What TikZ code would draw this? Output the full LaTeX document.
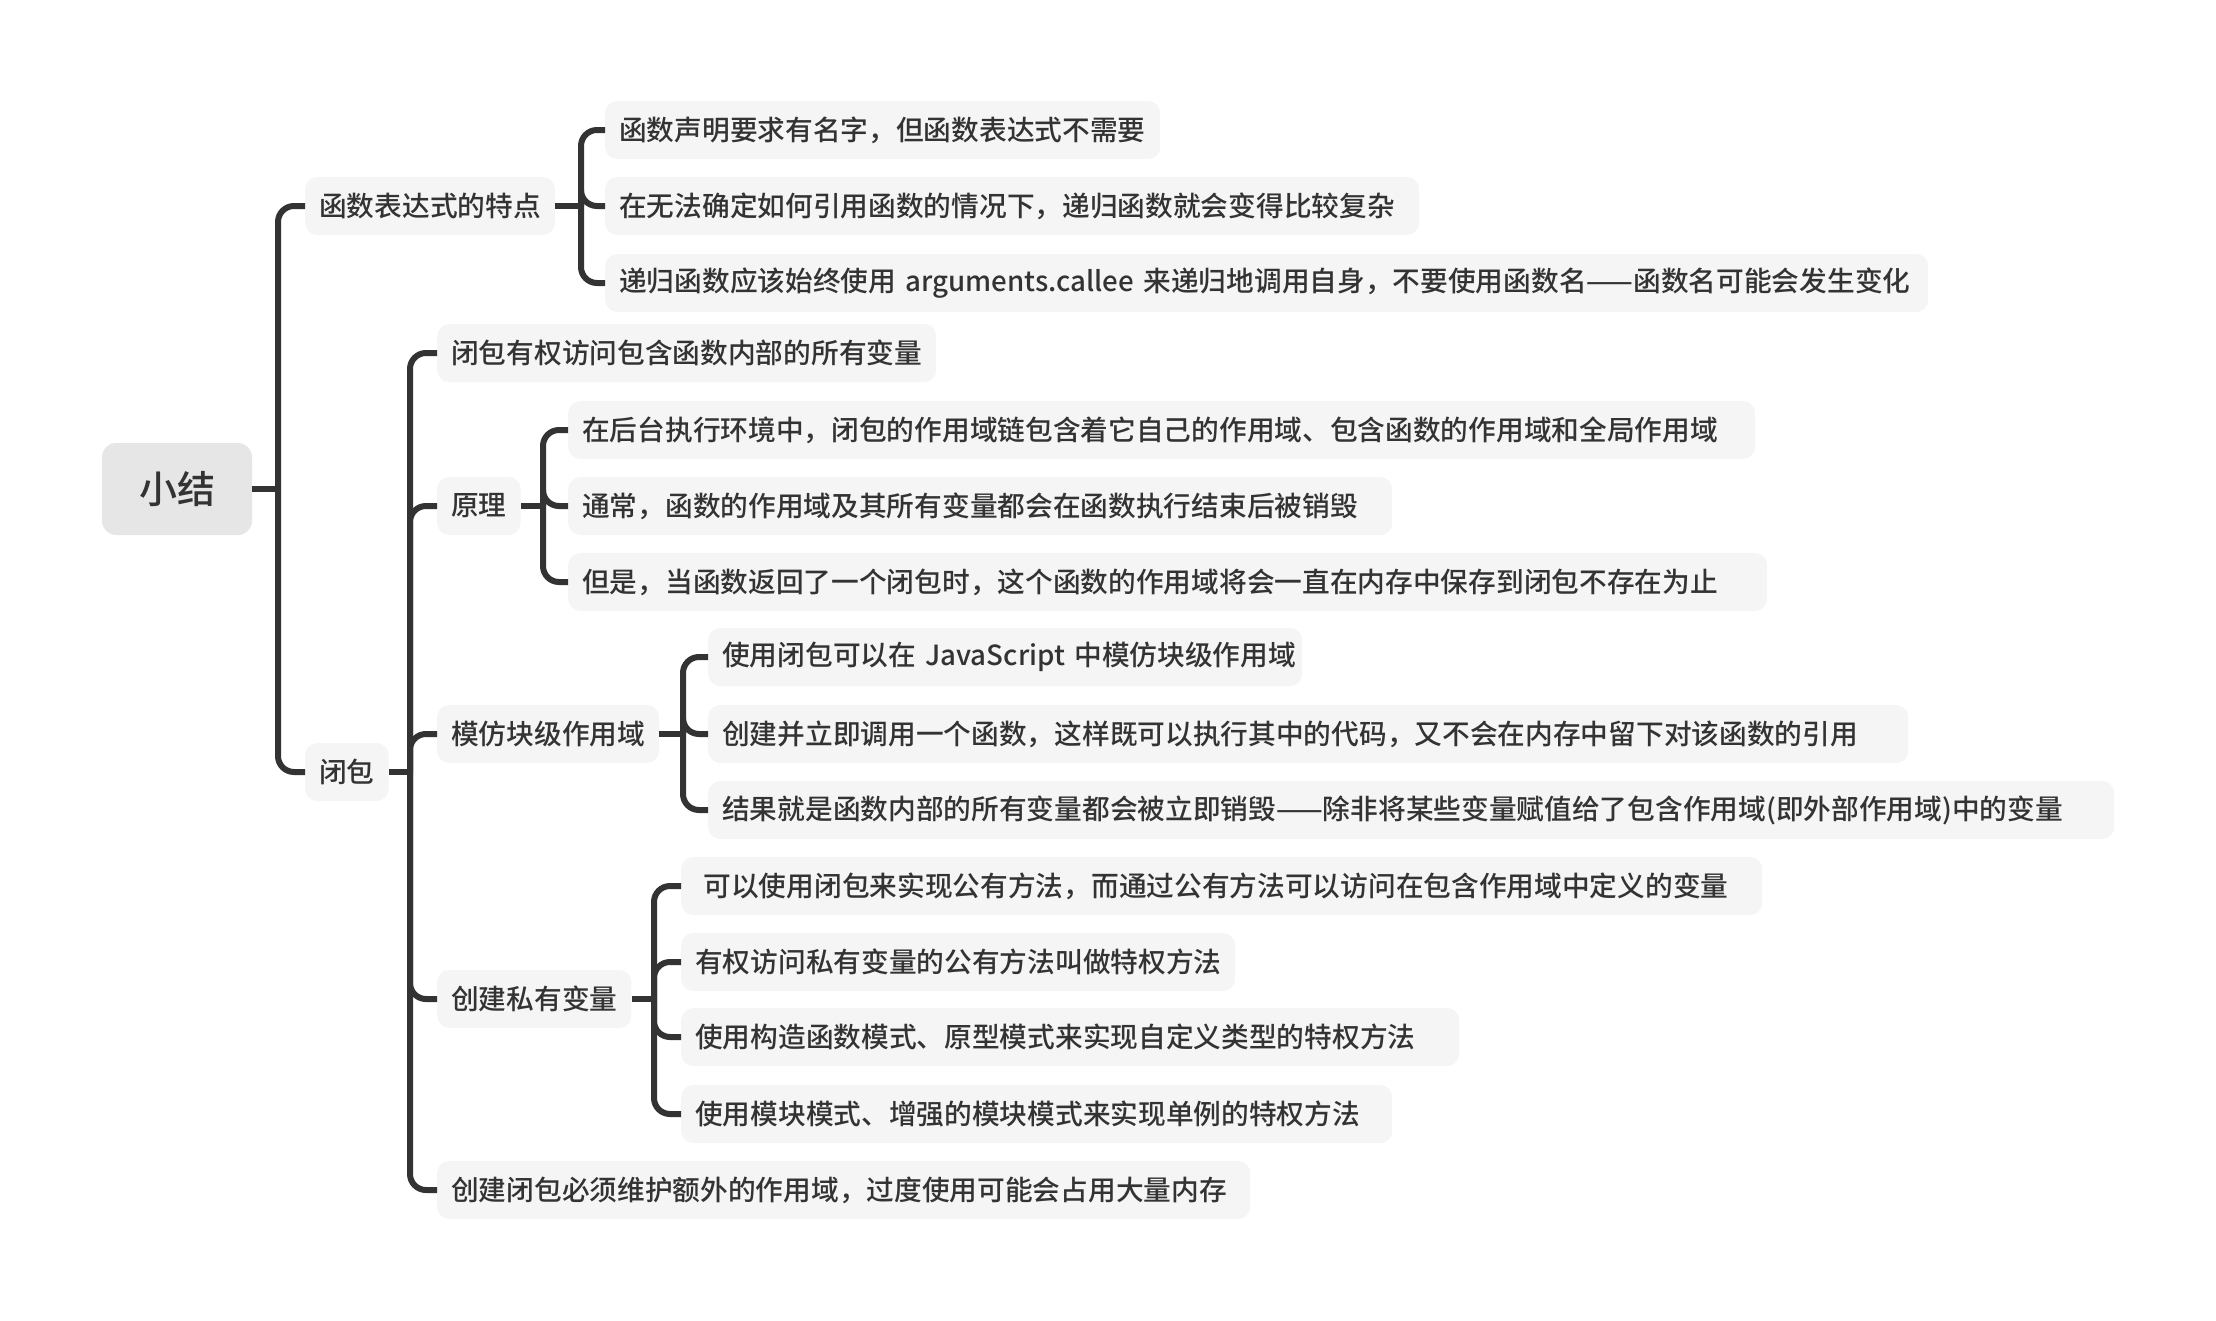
\documentclass[tikz,border=0pt]{standalone}
\usepackage{fontspec}
\setmainfont{Noto Sans CJK SC}[UprightFont=* Medium]
\usetikzlibrary{calc}
\definecolor{ink}{HTML}{333333}
\definecolor{leaf}{HTML}{F5F5F5}
\definecolor{rootfill}{HTML}{E6E6E6}
\begin{document}
\begin{tikzpicture}[x=1pt,y=-1pt,
  topic/.style={anchor=west, fill=leaf, rounded corners=12pt, inner xsep=14pt,
    inner ysep=0pt, minimum height=58pt, text=ink, font=\fontsize{27.7}{30}\selectfont},
  wide/.style={text width=#1, align=left},
  central/.style={fill=rootfill, rounded corners=14pt, minimum width=150pt,
    minimum height=92pt, text=ink, font=\fontsize{38}{42}\selectfont},
  link/.style={draw=ink, line width=6pt, rounded corners=16pt},
]
\useasboundingbox (0,0) rectangle (2216,1320);

% central topic
\node[central] (root) at (177,489) {小结};

% main branches
\node[topic] (fx) at (305,206) {函数表达式的特点};
\node[topic] (cl) at (305,772) {闭包};

% function expressions
\node[topic, wide=527pt]  (fx1) at (605,130) {函数声明要求有名字，但函数表达式不需要};
\node[topic, wide=786pt]  (fx2) at (605,206) {在无法确定如何引用函数的情况下，递归函数就会变得比较复杂};
\node[topic, wide=1295pt] (fx3) at (605,283) {递归函数应该始终使用~arguments.callee~来递归地调用自身，不要使用函数名——函数名可能会发生变化};

% closures
\node[topic, wide=471pt] (cl1) at (437,353) {闭包有权访问包含函数内部的所有变量};
\node[topic] (yl)  at (437,506) {原理};
\node[topic] (mf)  at (437,734) {模仿块级作用域};
\node[topic] (sy)  at (437,999) {创建私有变量};
\node[topic, wide=785pt] (cl5) at (437,1190) {创建闭包必须维护额外的作用域，过度使用可能会占用大量内存};

\node[topic, wide=1159pt] (yl1) at (568,430) {在后台执行环境中，闭包的作用域链包含着它自己的作用域、包含函数的作用域和全局作用域};
\node[topic, wide=796pt]  (yl2) at (568,506) {通常，函数的作用域及其所有变量都会在函数执行结束后被销毁};
\node[topic, wide=1171pt] (yl3) at (568,582) {但是，当函数返回了一个闭包时，这个函数的作用域将会一直在内存中保存到闭包不存在为止};

\node[topic, wide=566pt]  (mf1) at (708,657) {使用闭包可以在~JavaScript~中模仿块级作用域};
\node[topic, wide=1172pt] (mf2) at (708,734) {创建并立即调用一个函数，这样既可以执行其中的代码，又不会在内存中留下对该函数的引用};
\node[topic, wide=1378pt] (mf3) at (708,810) {结果就是函数内部的所有变量都会被立即销毁——除非将某些变量赋值给了包含作用域(即外部作用域)中的变量};

\node[topic, wide=1053pt] (sy1) at (681,886) {\hspace{0.3em}可以使用闭包来实现公有方法，而通过公有方法可以访问在包含作用域中定义的变量};
\node[topic, wide=526pt]  (sy2) at (681,962) {有权访问私有变量的公有方法叫做特权方法};
\node[topic, wide=750pt]  (sy3) at (681,1037) {使用构造函数模式、原型模式来实现自定义类型的特权方法};
\node[topic, wide=683pt]  (sy4) at (681,1114) {使用模块模式、增强的模块模式来实现单例的特权方法};

% junction points of the brackets
\coordinate (jroot) at ($(fx.west |- root.east)+(-27,0)$);
\coordinate (jfx)   at ($(fx1.west |- fx.east)+(-24,0)$);
\coordinate (jcl)   at ($(cl1.west |- cl.east)+(-27,0)$);
\coordinate (jyl)   at ($(yl1.west |- yl.east)+(-25,0)$);
\coordinate (jmf)   at ($(mf1.west |- mf.east)+(-25,0)$);
\coordinate (jsy)   at ($(sy1.west |- sy.east)+(-27,0)$);

% connectors
\draw[link] (root.east) -- (jroot);
\foreach \c in {fx,cl} \draw[link] (jroot) |- (\c.west);

\draw[link] (fx.east) -- (jfx);
\foreach \c in {fx1,fx2,fx3} \draw[link] (jfx) |- (\c.west);

\draw[link] (cl.east) -- (jcl);
\foreach \c in {cl1,yl,mf,sy,cl5} \draw[link] (jcl) |- (\c.west);

\draw[link] (yl.east) -- (jyl);
\foreach \c in {yl1,yl2,yl3} \draw[link] (jyl) |- (\c.west);

\draw[link] (mf.east) -- (jmf);
\foreach \c in {mf1,mf2,mf3} \draw[link] (jmf) |- (\c.west);

\draw[link] (sy.east) -- (jsy);
\foreach \c in {sy1,sy2,sy3,sy4} \draw[link] (jsy) |- (\c.west);
\end{tikzpicture}
\end{document}
